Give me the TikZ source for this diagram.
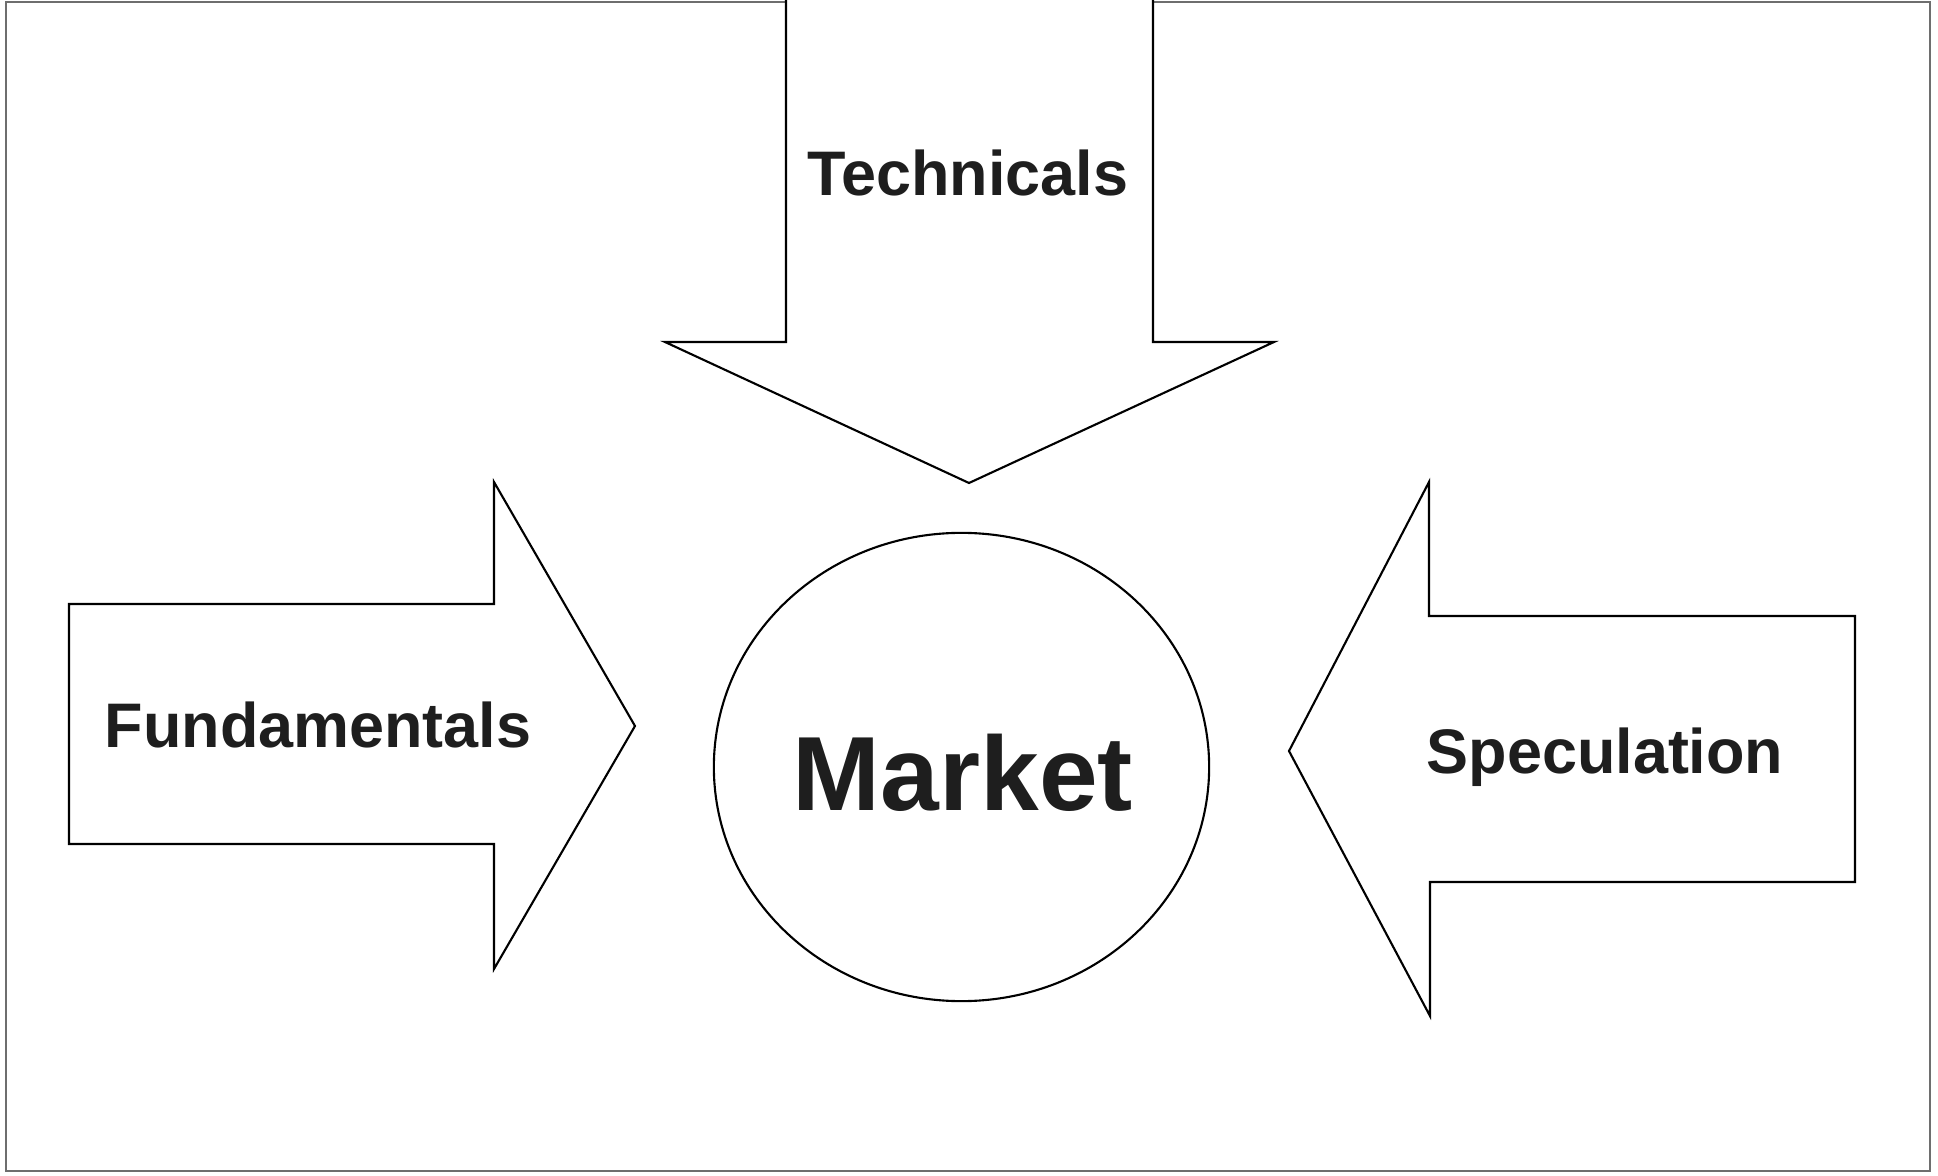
\documentclass[tikz,border=0pt]{standalone}
\usepackage{fontspec}
\setmainfont{Liberation Sans}
\usetikzlibrary{shapes.geometric}
\definecolor{ink}{HTML}{1E1E1E}
\definecolor{framegray}{HTML}{6E6E6E}
\tikzset{
  outline/.style={draw=black, line width=0.6pt, line join=miter},
  frameline/.style={draw=framegray, line width=0.5pt},
  lbl/.style={font=\fontsize{17.9pt}{20pt}\selectfont\bfseries, text=ink, anchor=base, inner sep=0pt},
  biglbl/.style={font=\fontsize{30pt}{34pt}\selectfont\bfseries, text=ink, anchor=base, inner sep=0pt}
}
\begin{document}
\begin{tikzpicture}[x=0.01cm, y=-0.01cm]
\useasboundingbox (0,0) rectangle (1938,1176);
% page frame (open under the top arrow)
\draw[frameline] (786,2) -- (6,2) -- (6,1171) -- (1930,1171) -- (1930,2) -- (1153,2);
% top arrow (Technicals)
\draw[outline] (786,0) -- (786,342) -- (665,342) -- (969,483) -- (1274,342) -- (1153,342) -- (1153,0);
% left arrow (Fundamentals)
\draw[outline] (69,604) -- (494,604) -- (494,482) -- (635,726) -- (494,969) -- (494,844) -- (69,844) -- cycle;
% right arrow (Speculation)
\draw[outline] (1855,616) -- (1429,616) -- (1429,482) -- (1289,751) -- (1430,1016) -- (1430,882) -- (1855,882) -- cycle;
% central ellipse
\node[outline, ellipse, inner sep=0pt, minimum width=4.95cm, minimum height=4.68cm] (circ) at (961.5,767) {};
% labels
\node[lbl] (tech) at (968,196) {Technicals};
\node[lbl] (fund) at (318,747) {Fundamentals};
\node[lbl] (spec) at (1605,773) {Speculation};
\node[biglbl] (market) at (963,810) {Market};
\end{tikzpicture}
\end{document}
